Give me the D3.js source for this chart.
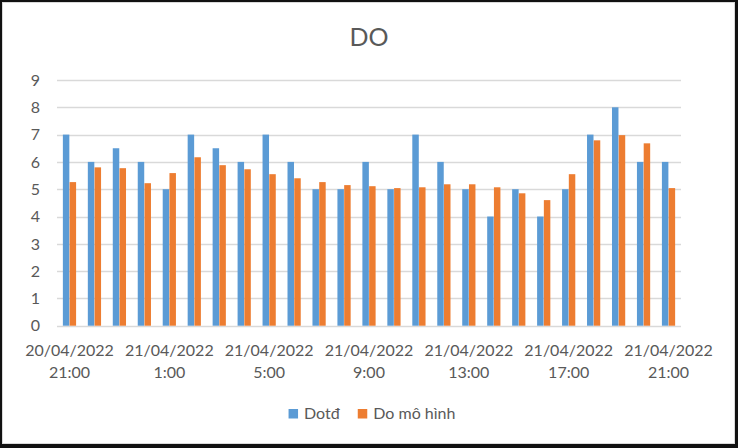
<!DOCTYPE html>
<html>
<head>
<meta charset="utf-8">
<script src="https://cdn.jsdelivr.net/npm/d3@7"></script>
<style>
  html, body { margin: 0; padding: 0; background: #fff; }
  svg { display: block; font-family: Lato, "Open Sans", sans-serif; }
</style>
</head>
<body>
<svg id="chart" width="738" height="448"></svg>
<script>
const title = "DO";
const seriesNames = ["Dotđ", "Do mô hình"];
const categories = [
  "20/04/2022 21:00", "21/04/2022 22:00", "21/04/2022 23:00", "21/04/2022 0:00",
  "21/04/2022 1:00", "21/04/2022 2:00", "21/04/2022 3:00", "21/04/2022 4:00",
  "21/04/2022 5:00", "21/04/2022 6:00", "21/04/2022 7:00", "21/04/2022 8:00",
  "21/04/2022 9:00", "21/04/2022 10:00", "21/04/2022 11:00", "21/04/2022 12:00",
  "21/04/2022 13:00", "21/04/2022 14:00", "21/04/2022 15:00", "21/04/2022 16:00",
  "21/04/2022 17:00", "21/04/2022 18:00", "21/04/2022 19:00", "21/04/2022 20:00",
  "21/04/2022 21:00"
];
const shownLabels = [
  "20/04/2022 21:00", "21/04/2022 1:00", "21/04/2022 5:00", "21/04/2022 9:00",
  "21/04/2022 13:00", "21/04/2022 17:00", "21/04/2022 21:00"
];
const dotd = [7, 6, 6.5, 6, 5, 7, 6.5, 6, 7, 6, 5, 5, 6, 5, 7, 6, 5, 4, 5, 4, 5, 7, 8, 6, 6];
const doMoHinh = [5.26, 5.8, 5.77, 5.22, 5.59, 6.17, 5.88, 5.73, 5.55, 5.4, 5.26, 5.15, 5.11, 5.04, 5.07, 5.18, 5.18, 5.07, 4.85, 4.6, 5.55, 6.79, 6.98, 6.68, 5.04];
const yTicks = [0, 1, 2, 3, 4, 5, 6, 7, 8, 9];
const colors = ["#5B9BD5", "#ED7D31"];

const svg = d3.select("#chart");
const W = 738, H = 448;
const textColor = "#595959";

// frame
svg.append("rect").attr("x", 0).attr("y", 0).attr("width", W).attr("height", H).attr("fill", "#111");
svg.append("rect").attr("x", 2.5).attr("y", 2.5).attr("width", 732).attr("height", 441)
  .attr("fill", "#fff").attr("stroke", "#d9d9d9").attr("stroke-width", 1);

const plot = { left: 57, right: 681, top: 80, bottom: 325.7 };

const x0 = d3.scaleBand().domain(categories).range([plot.left, plot.right]).paddingInner(0.47).paddingOuter(0.235);
const x1 = d3.scaleBand().domain([0, 1]).range([0, x0.bandwidth()]).padding(0.04).paddingOuter(0);
const y = d3.scaleLinear().domain([0, 9]).range([plot.bottom, plot.top]);

// gridlines
svg.append("g").selectAll("line").data(yTicks).join("line")
  .attr("x1", plot.left).attr("x2", plot.right)
  .attr("y1", d => Math.round(y(d)) + 0.5).attr("y2", d => Math.round(y(d)) + 0.5)
  .attr("stroke", "#d9d9d9").attr("stroke-width", 1.4);

// y labels
svg.append("g").selectAll("text").data(yTicks).join("text")
  .attr("x", 40).attr("y", d => y(d)).attr("dy", "0.36em")
  .attr("text-anchor", "end").attr("fill", textColor).attr("font-size", 16)
  .text(d => d);

// bars
const series = [dotd, doMoHinh];
series.forEach((vals, si) => {
  svg.append("g").selectAll("rect").data(vals).join("rect")
    .attr("x", (d, i) => x0(categories[i]) + x1(si))
    .attr("width", x1.bandwidth())
    .attr("y", d => y(d))
    .attr("height", d => y(0) - y(d))
    .attr("fill", colors[si]);
});

// x labels
const xl = svg.append("g").selectAll("text").data(shownLabels).join("text")
  .attr("text-anchor", "middle").attr("fill", textColor).attr("font-size", 16);
xl.each(function(d) {
  const parts = d.split(" ");
  const cx = x0(d) + x0.bandwidth() / 2;
  const t = d3.select(this);
  t.append("tspan").attr("x", cx).attr("y", 356).text(parts[0]);
  t.append("tspan").attr("x", cx).attr("y", 378).text(parts[1]);
});

// title
svg.append("text").attr("x", (plot.left + plot.right) / 2).attr("y", 46)
  .attr("text-anchor", "middle").attr("fill", textColor).attr("font-size", 25).text(title);

// legend
const lg = svg.append("g");
let cursor = 0;
const items = [];
seriesNames.forEach((name, i) => {
  const g = lg.append("g").attr("transform", `translate(${cursor},0)`);
  g.append("rect").attr("x", 0).attr("y", -10).attr("width", 9.5).attr("height", 9.5).attr("fill", colors[i]);
  const t = g.append("text").attr("x", 15.5).attr("y", 0).attr("fill", textColor).attr("font-size", 16).text(name);
  const w = t.node().getComputedTextLength();
  cursor += 15.5 + w + 18;
});
const totalW = cursor - 18;
lg.attr("transform", `translate(${372 - totalW / 2},419)`);
</script>
</body>
</html>
